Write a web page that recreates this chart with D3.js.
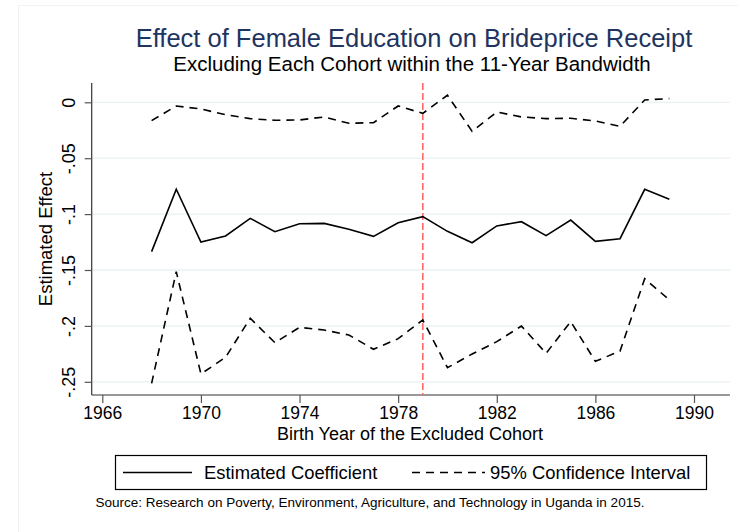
<!DOCTYPE html>
<html>
<head>
<meta charset="utf-8">
<script src="https://cdn.jsdelivr.net/npm/d3@7"></script>
<style>
  html, body { margin: 0; padding: 0; background: #ffffff; }
  svg { display: block; }
  text { font-family: "Liberation Sans", Arial, sans-serif; }
</style>
</head>
<body>
<div id="chart"></div>
<script>
// ---- data ----
const years = [1968,1969,1970,1971,1972,1973,1974,1975,1976,1977,1978,1979,1980,1981,1982,1983,1984,1985,1986,1987,1988,1989];
const coef  = [-0.1336,-0.0778,-0.1250,-0.1196,-0.1038,-0.1157,-0.1086,-0.1083,-0.1136,-0.1199,-0.1077,-0.1023,-0.1154,-0.1256,-0.1106,-0.1068,-0.1193,-0.1053,-0.1244,-0.1220,-0.0778,-0.0868];
const upper = [-0.0164,-0.0033,-0.0060,-0.0111,-0.0146,-0.0161,-0.0158,-0.0131,-0.0188,-0.0182,-0.0033,-0.0099,0.0063,-0.0260,-0.0087,-0.0131,-0.0146,-0.0143,-0.0167,-0.0215,0.0021,0.0033];
const lower = [-0.2514,-0.1515,-0.2430,-0.2281,-0.1932,-0.2150,-0.2013,-0.2037,-0.2081,-0.2209,-0.2114,-0.1947,-0.2374,-0.2251,-0.2141,-0.2001,-0.2245,-0.1962,-0.2317,-0.2225,-0.1578,-0.1768];
const xTicks = [1966,1970,1974,1978,1982,1986,1990];
const yTicks = [0,-0.05,-0.1,-0.15,-0.2,-0.25];
const yTickLabels = ["0","-.05","-.1","-.15","-.2","-.25"];
const cutoffYear = 1979;
const titleText = "Effect of Female Education on Brideprice Receipt";
const subtitleText = "Excluding Each Cohort within the 11-Year Bandwidth";
const xTitle = "Birth Year of the Excluded Cohort";
const yTitle = "Estimated Effect";
const legendLabels = ["Estimated Coefficient", "95% Confidence Interval"];
const noteText = "Source: Research on Poverty, Environment, Agriculture, and Technology in Uganda in 2015.";

// ---- layout ----
const W = 738, H = 532;
const plot = { left: 91.7, right: 730, top: 83, bottom: 395 };

const svg = d3.select("#chart").append("svg")
  .attr("width", W).attr("height", H);

svg.append("rect").attr("x", 0).attr("y", 0).attr("width", W).attr("height", H).attr("fill", "#ffffff");
// faint outer graph-region frame
svg.append("rect").attr("x", 18.5).attr("y", 5.5).attr("width", 800).attr("height", 600)
  .attr("fill", "none").attr("stroke", "#eef3f3").attr("stroke-width", 1);

const x = d3.scaleLinear().domain([1965.57, 1991.46]).range([plot.left, plot.right]);
const y = d3.scaleLinear().domain([-0.2618, 0.01726]).range([plot.bottom, plot.top]);

// gridlines
svg.append("g").selectAll("line").data(yTicks).join("line")
  .attr("x1", plot.left).attr("x2", plot.right)
  .attr("y1", d => y(d)).attr("y2", d => y(d))
  .attr("stroke", "#eaf2f3").attr("stroke-width", 1.3);

// y axis
const yAxis = d3.axisLeft(y).tickValues(yTicks)
  .tickFormat((d, i) => yTickLabels[i]).tickSize(7).tickPadding(5);
const gy = svg.append("g").attr("transform", `translate(${plot.left},0)`).call(yAxis);
gy.select(".domain").attr("stroke", "#333").attr("stroke-width", 1.2)
  .attr("d", `M0,${plot.top}V${plot.bottom}`);
gy.selectAll(".tick line").attr("stroke", "#555").attr("stroke-width", 1.2);
gy.selectAll(".tick text")
  .attr("font-size", 18).attr("fill", "#000")
  .attr("text-anchor", "middle")
  .attr("x", null).attr("dy", null)
  .attr("transform", "translate(-17,0) rotate(-90)")
  .attr("y", 0);

// x axis
const xAxis = d3.axisBottom(x).tickValues(xTicks).tickFormat(d3.format("d")).tickSize(8).tickPadding(4);
const gx = svg.append("g").attr("transform", `translate(0,${plot.bottom})`).call(xAxis);
gx.select(".domain").attr("stroke", "#333").attr("stroke-width", 1.2)
  .attr("d", `M${plot.left},0H${plot.right}`);
gx.selectAll(".tick line").attr("stroke", "#555").attr("stroke-width", 1.2);
gx.selectAll(".tick text").attr("font-size", 17.5).attr("fill", "#000");

// cutoff line
svg.append("line")
  .attr("x1", x(cutoffYear)).attr("x2", x(cutoffYear))
  .attr("y1", plot.top).attr("y2", plot.bottom)
  .attr("stroke", "#ff6a6a").attr("stroke-width", 1.6)
  .attr("stroke-dasharray", "7,3");

// series lines
const line = d3.line().x(d => x(d[0])).y(d => y(d[1]));
const seriesDefs = [
  { vals: upper, dash: "8,6" },
  { vals: lower, dash: "8,6" },
  { vals: coef,  dash: null }
];
seriesDefs.forEach(s => {
  svg.append("path")
    .datum(years.map((yr, i) => [yr, s.vals[i]]))
    .attr("d", line)
    .attr("fill", "none").attr("stroke", "#000").attr("stroke-width", 1.6)
    .attr("stroke-linejoin", "miter")
    .attr("stroke-dasharray", s.dash);
});

// titles
svg.append("text").attr("x", 414).attr("y", 47).attr("text-anchor", "middle")
  .attr("font-size", 25.5).attr("fill", "#1f3460").text(titleText);
svg.append("text").attr("x", 412).attr("y", 71).attr("text-anchor", "middle")
  .attr("font-size", 20.5).attr("fill", "#000").text(subtitleText);
svg.append("text").attr("x", 410).attr("y", 440).attr("text-anchor", "middle")
  .attr("font-size", 18).attr("fill", "#000").text(xTitle);
svg.append("text").attr("transform", `translate(52,${(plot.top + plot.bottom) / 2}) rotate(-90)`)
  .attr("text-anchor", "middle").attr("font-size", 18.5).attr("fill", "#000").text(yTitle);

// legend
const lg = svg.append("g");
lg.append("rect").attr("x", 115.5).attr("y", 455.5).attr("width", 591).attr("height", 34)
  .attr("fill", "#fff").attr("stroke", "#000").attr("stroke-width", 1.2);
lg.append("line").attr("x1", 123).attr("x2", 192).attr("y1", 472.5).attr("y2", 472.5)
  .attr("stroke", "#000").attr("stroke-width", 1.6);
lg.append("text").attr("x", 204).attr("y", 479).attr("font-size", 18.4).attr("fill", "#000").text(legendLabels[0]);
lg.append("line").attr("x1", 412).attr("x2", 485).attr("y1", 472.5).attr("y2", 472.5)
  .attr("stroke", "#000").attr("stroke-width", 1.6).attr("stroke-dasharray", "8,6");
lg.append("text").attr("x", 490).attr("y", 479).attr("font-size", 18.4).attr("fill", "#000").text(legendLabels[1]);

// note
svg.append("text").attr("x", 370).attr("y", 507).attr("text-anchor", "middle")
  .attr("font-size", 13.5).attr("fill", "#000").text(noteText);
</script>
</body>
</html>
